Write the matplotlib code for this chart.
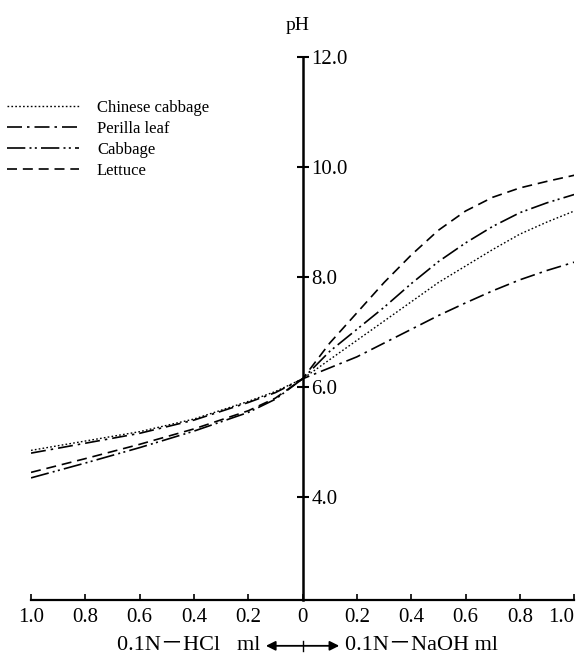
import numpy as np
import matplotlib
matplotlib.use("Agg")
import matplotlib.pyplot as plt
from matplotlib.transforms import blended_transform_factory

plt.rcParams["font.family"] = ["Liberation Serif", "Noto Sans CJK SC", "DejaVu Serif"]

# ml of 0.1N reagent added: negative = HCl side, positive = NaOH side
reagent_ml = [-1.0, -0.8, -0.6, -0.4, -0.2, -0.1, 0.0,
              0.1, 0.2, 0.3, 0.4, 0.5, 0.6, 0.7, 0.8, 0.9, 1.0]

ph_chinese_cabbage = [4.85, 5.02, 5.19, 5.42, 5.74, 5.92, 6.15,
                      6.50, 6.85, 7.20, 7.55, 7.90, 8.20, 8.50, 8.78, 9.00, 9.20]
ph_perilla_leaf = [4.80, 4.98, 5.16, 5.40, 5.72, 5.90, 6.15,
                   6.35, 6.55, 6.80, 7.05, 7.30, 7.53, 7.75, 7.95, 8.12, 8.27]
ph_cabbage = [4.35, 4.62, 4.90, 5.20, 5.54, 5.78, 6.15,
              6.65, 7.05, 7.45, 7.88, 8.28, 8.62, 8.92, 9.17, 9.35, 9.50]
ph_lettuce = [4.45, 4.70, 4.96, 5.24, 5.57, 5.80, 6.15,
              6.80, 7.35, 7.90, 8.40, 8.85, 9.20, 9.45, 9.62, 9.74, 9.85]

x_ticks = [-1.0, -0.8, -0.6, -0.4, -0.2, 0.0, 0.2, 0.4, 0.6, 0.8, 1.0]
x_tick_labels = ["1.0", "0.8", "0.6", "0.4", "0.2", "0",
                 "0.2", "0.4", "0.6", "0.8", "1.0"]
y_ticks = [4.0, 6.0, 8.0, 10.0, 12.0]

fig = plt.figure(figsize=(5.84, 6.59), dpi=100)
ax = fig.add_axes([0.0531, 0.0895, 0.930, 0.824])

series = [
    ("Chinese cabbage", ph_chinese_cabbage, (0, (1.2, 1.6)), 1.0),
    ("Perilla leaf", ph_perilla_leaf, (0, (9, 3, 1.5, 3)), 1.2),
    ("Cabbage", ph_cabbage, (0, (11, 2.5, 1.2, 2, 1.2, 2.5)), 1.2),
    ("Lettuce", ph_lettuce, (0, (6, 3.5)), 1.2),
]
for name, ph, ls, lw in series:
    ax.plot(reagent_ml, ph, color="black", linestyle=ls, linewidth=lw, label=name)

ax.set_xlim(-1.0, 1.0)
ax.set_ylim(2.13, 12.0)

# pH axis sits at x = 0 with labels on its right
for side in ("left", "top"):
    ax.spines[side].set_visible(False)
ax.spines["right"].set_position(("data", 0))
ax.spines["right"].set_linewidth(1.8)
ax.spines["bottom"].set_linewidth(1.6)
ax.yaxis.tick_right()
ax.set_yticks(y_ticks)
ax.set_yticklabels([f"{v:.1f}" for v in y_ticks])
ax.tick_params(axis="y", direction="inout", length=9, width=1.5,
               labelsize=15, pad=2)

ax.set_xticks(x_ticks)
ax.set_xticklabels(x_tick_labels)
ax.tick_params(axis="x", direction="in", length=4, width=1.2,
               labelsize=15, pad=6)
ax.get_xticklabels()[-1].set_horizontalalignment("right")

fig.text(0.509, 0.962, "pH", ha="center", va="center", fontsize=14)

# reagent direction labels under the axis
trans = blended_transform_factory(ax.transData, fig.transFigure)
ax.annotate("", xy=(-0.135, 0.02), xytext=(0.135, 0.02), xycoords=trans,
            textcoords=trans,
            arrowprops=dict(arrowstyle="<|-|>", color="black", lw=1.3,
                            mutation_scale=14, shrinkA=0, shrinkB=0))
ax.plot([0, 0], [0.012, 0.028], transform=trans, color="black",
        linewidth=1.0, clip_on=False)
ax.text(-0.155, 0.02, "0.1N－HCl   ml", transform=trans, ha="right",
        va="center", fontsize=16)
ax.text(0.155, 0.02, "0.1N－NaOH ml", transform=trans, ha="left",
        va="center", fontsize=16)

ax.legend(loc="upper left", bbox_to_anchor=(0.012, 0.848),
          bbox_transform=fig.transFigure, frameon=False, fontsize=12,
          handlelength=4.3, handletextpad=1.1, labelspacing=0.3,
          borderpad=0, borderaxespad=0)

fig.savefig("out.png", dpi=100)
plt.close(fig)
